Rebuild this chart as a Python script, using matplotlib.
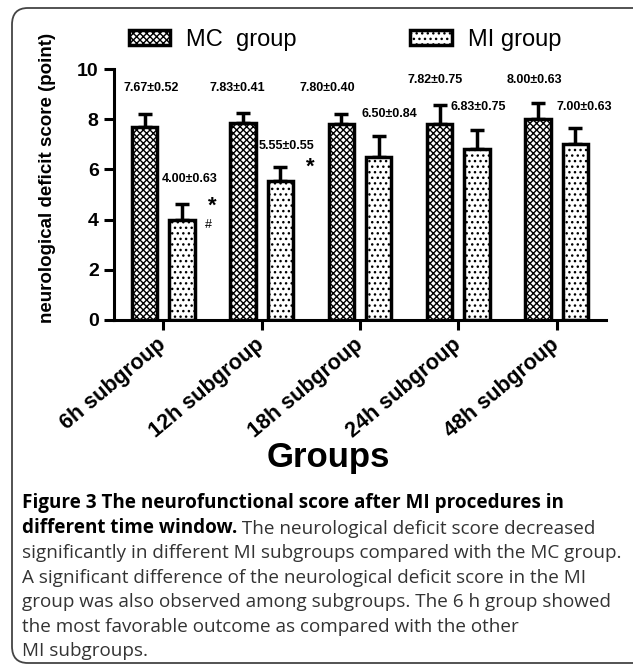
import matplotlib.pyplot as plt
import numpy as np
from matplotlib.patches import FancyBboxPatch

# data
groups = ['6h subgroup', '12h subgroup', '18h subgroup', '24h subgroup', '48h subgroup']
mc_mean = [7.67, 7.83, 7.80, 7.82, 8.00]
mc_sd = [0.52, 0.41, 0.40, 0.75, 0.63]
mi_mean = [4.00, 5.55, 6.50, 6.83, 7.00]
mi_sd = [0.63, 0.55, 0.84, 0.75, 0.63]

# where the "mean±sd" labels sit (x offset from group centre, y in score units)
mc_lab_dx = [-0.12, -0.25, -0.33, -0.24, -0.23]
mc_lab_y = [9.25, 9.25, 9.25, 9.55, 9.55]
mi_lab_dx = [0.27, 0.25, 0.30, 0.20, 0.28]
mi_lab_y = [5.6, 6.93, 8.2, 8.49, 8.49]

caption_bold_1 = "Figure 3 The neurofunctional score after MI procedures in"
caption_bold_2 = "different time window."
caption_rest = [
    " The neurological deficit score decreased",
    "significantly in different MI subgroups compared with the MC group.",
    "A significant difference of the neurological deficit score in the MI",
    "group was also observed among subgroups. The 6 h group showed",
    "the most favorable outcome as compared with the other",
    "MI subgroups.",
]

plt.rcParams['font.family'] = ['Liberation Sans', 'DejaVu Sans']
plt.rcParams['hatch.linewidth'] = 1.0

W, H = 633, 668
fig = plt.figure(figsize=(W / 100, H / 100), dpi=100)
ax = fig.add_axes([114 / W, 1 - 320 / H, 492 / W, 251 / H])

x = np.arange(len(groups))
bw = 0.26
off = 0.19
mc_bars = ax.bar(x - off, mc_mean, bw, color='white', edgecolor='black', hatch='xxxxx',
                 linewidth=2.5, label='MC  group', zorder=2)
mi_bars = ax.bar(x + off, mi_mean, bw, color='white', edgecolor='black', hatch='...',
                 linewidth=2.5, label='MI group', zorder=2)

zeros = [0] * len(groups)
ax.errorbar(x - off, mc_mean, yerr=[zeros, mc_sd], fmt='none', ecolor='black',
            elinewidth=2.5, capsize=5, capthick=2.5, zorder=1)
ax.errorbar(x + off, mi_mean, yerr=[zeros, mi_sd], fmt='none', ecolor='black',
            elinewidth=2.5, capsize=5, capthick=2.5, zorder=1)

lab_font = dict(fontsize=9, fontweight='bold', ha='center', va='center',
                family=['Liberation Sans Narrow', 'Liberation Sans'])
for i in range(len(groups)):
    ax.text(i + mc_lab_dx[i], mc_lab_y[i], f"{mc_mean[i]:.2f}±{mc_sd[i]:.2f}", **lab_font)
    ax.text(i + mi_lab_dx[i], mi_lab_y[i], f"{mi_mean[i]:.2f}±{mi_sd[i]:.2f}", **lab_font)

# significance marks
ax.text(0.5, 4.55, '*', fontsize=16, fontweight='bold', ha='center', va='center')
ax.text(0.46, 3.78, '#', fontsize=9, ha='center', va='center')
ax.text(1.49, 6.1, '*', fontsize=16, fontweight='bold', ha='center', va='center')

ax.set_xlim(-0.5, 4.5)
ax.set_ylim(0, 10)
ax.set_yticks([0, 2, 4, 6, 8, 10])
ax.set_xticks(x)
ax.set_xticklabels(groups, rotation=40, ha='right', va='center', rotation_mode='anchor')
for s in ['top', 'right']:
    ax.spines[s].set_visible(False)
for s in ['left', 'bottom']:
    ax.spines[s].set_linewidth(2.2)
ax.tick_params(axis='both', length=7, width=2.2, labelsize=14, pad=4)
ax.tick_params(axis='x', labelsize=15.5, pad=9)
for t in ax.get_xticklabels() + ax.get_yticklabels():
    t.set_fontweight('bold')

fig.text(328 / W, 1 - 458 / H, 'Groups', fontsize=25, fontweight='bold',
         ha='center', va='center')
fig.text(48 / W, 1 - 178 / H, 'neurological deficit score (point)', rotation=90,
         fontsize=13.5, fontweight='bold', ha='center', va='center')

fig.legend(handles=[mc_bars, mi_bars], loc='center left',
           bbox_to_anchor=(129 / W, 1 - 40 / H), ncol=2, frameon=False, fontsize=17,
           handlelength=1.75, handleheight=0.6, handletextpad=0.68, columnspacing=4.8,
           borderpad=0, borderaxespad=0)

# caption
cap_x = 22 / W
cap_fs = 13.6
line_y = [503, 528, 553, 578, 602, 627, 651]
cap_font = ['Open Sans', 'DejaVu Sans']
fig.text(cap_x, 1 - line_y[0] / H, caption_bold_1, fontsize=cap_fs, fontweight='bold',
         family=cap_font, va='center', color='black')
t2 = fig.text(cap_x, 1 - line_y[1] / H, caption_bold_2, fontsize=cap_fs, fontweight='bold',
              family=cap_font, va='center', color='black')
ax.annotate(caption_rest[0], xy=(1, 0), xycoords=t2, va='bottom', ha='left',
            fontsize=cap_fs, family=cap_font, color='#333333')
for k, line in enumerate(caption_rest[1:]):
    fig.text(cap_x, 1 - line_y[k + 2] / H, line, fontsize=cap_fs, family=cap_font,
             va='center', color='#333333')

# rounded frame round the whole figure
frame = FancyBboxPatch((12 / W, 5 / H), 1.2, 1 - 13 / H,
                       boxstyle='round,pad=0,rounding_size=0.025',
                       transform=fig.transFigure, fill=False, edgecolor='#444444',
                       linewidth=1.3)
fig.patches.append(frame)

fig.savefig('out.png', dpi=100)
